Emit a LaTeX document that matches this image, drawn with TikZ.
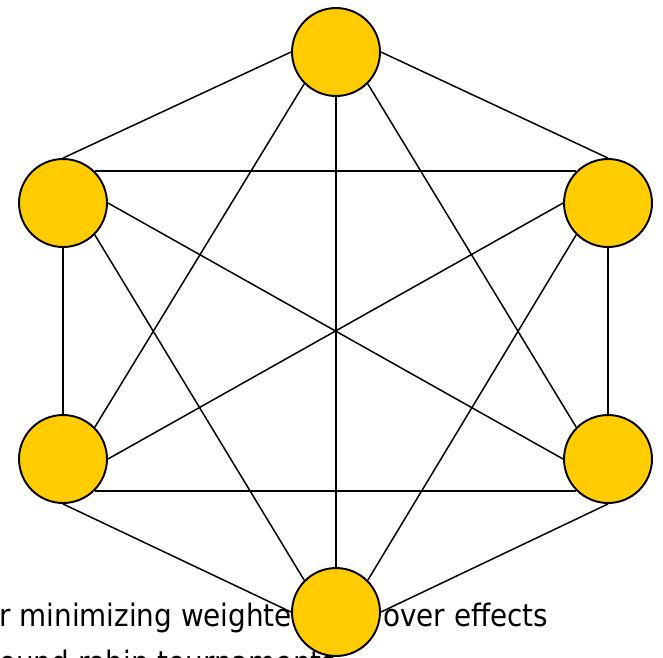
\documentclass[tikz,border=0pt]{standalone}
\usepackage{fontspec}
\setmainfont{DejaVu Sans Condensed}
\usetikzlibrary{positioning}
\definecolor{myyellow}{RGB}{255,204,0}

\begin{document}
\begin{tikzpicture}[x=0.02cm,y=-0.02cm,
  vnode/.style={circle,draw,line width=1.1pt,fill=myyellow,minimum size=1.76cm,inner sep=0pt},
  link/.style={line width=0.85pt},
  slidetext/.style={anchor=base west,inner sep=0pt,font=\fontsize{17.6}{26.6}\selectfont}
]
\useasboundingbox (0,0) rectangle (663,657);

% the text behind the graph
\node[slidetext] (txta) at (-1,626) {r minimizing weighted};
\node[slidetext] (txtb) at (383,626) {over effects};
\node[slidetext] (txtc) at (-1,673) {ound robin tournaments};

% the vertices
\node[vnode] (top) at (336,52) {};
\node[vnode] (ul) at (63,203) {};
\node[vnode] (ur) at (608,203) {};
\node[vnode] (ll) at (63,459) {};
\node[vnode] (lr) at (608,459) {};
\node[vnode] (bot) at (336,612) {};

% the outer edges
\draw[link] (top.west) -- (ul.north);
\draw[link] (top.east) -- (ur.north);
\draw[link] (ul.south) -- (ll.north);
\draw[link] (ur.south) -- (lr.north);
\draw[link] (ll.south) -- (bot.west);
\draw[link] (lr.south) -- (bot.east);

% the inner edges
\draw[link] (ul.north east) -- (ur.north west);
\draw[link] (ll.south east) -- (lr.south west);
\draw[link] (top.south) -- (bot.north);
\draw[link] (top.south west) -- (ll.north east);
\draw[link] (top.south east) -- (lr.north west);
\draw[link] (ul.east) -- (lr.west);
\draw[link] (ur.west) -- (ll.east);
\draw[link] (ul.south east) -- (bot.north west);
\draw[link] (ur.south west) -- (bot.north east);
\end{tikzpicture}
\end{document}
